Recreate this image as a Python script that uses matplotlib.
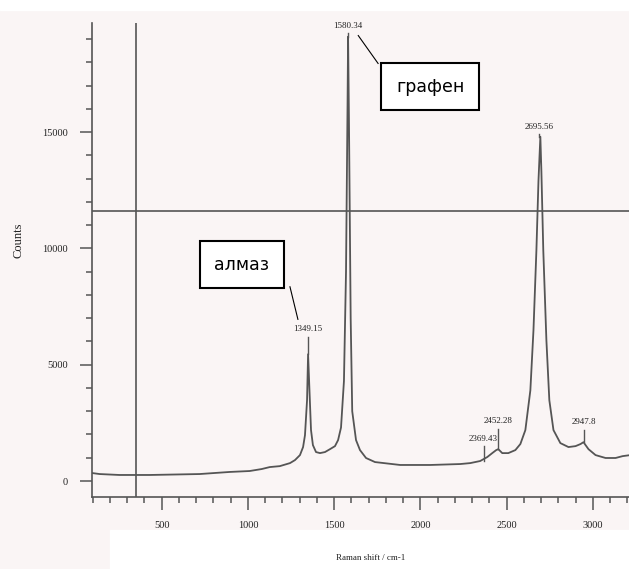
######## Spectre Raman - graphene / diamant ########
import matplotlib.pyplot as plt
from matplotlib.patches import Rectangle
from matplotlib.ticker import MultipleLocator

### Donnees ###
shift = [100, 140, 255, 430, 720, 895, 1010, 1080, 1127, 1185, 1244, 1273, 1302,
         1320, 1331, 1343, 1349, 1357, 1366, 1377, 1395, 1418, 1447, 1476, 1505,
         1523, 1540, 1557, 1569, 1578, 1581, 1586, 1596, 1605, 1627, 1650, 1685,
         1737, 1883, 2057, 2231, 2289, 2347, 2388, 2417, 2440, 2452, 2475, 2510,
         2551, 2580, 2609, 2638, 2656, 2673, 2685, 2696, 2702, 2713, 2731, 2748,
         2772, 2812, 2859, 2900, 2929, 2946, 2975, 3016, 3074, 3132, 3173, 3213]
counts = [340, 300, 260, 260, 300, 390, 430, 515, 600, 640, 770, 900, 1115,
          1460, 1970, 3475, 5450, 3900, 2190, 1545, 1245, 1200, 1245, 1370, 1500,
          1760, 2300, 4300, 9000, 16300, 19100, 15500, 7000, 3000, 1760, 1330, 990,
          815, 690, 690, 730, 770, 860, 1030, 1200, 1330, 1370, 1200, 1200,
          1330, 1590, 2190, 3900, 6480, 9910, 12900, 14800, 13300, 9910, 6050, 3475,
          2190, 1630, 1460, 1500, 1590, 1670, 1370, 1115, 990, 990, 1070, 1110]

# etiquettes des pics: (position, hauteur du pic, hauteur du texte)
pics = ['1349.15', '1580.34', '2695.56', '2452.28', '2369.43', '2947.8']
pics_x = [1349, 1581, 2690, 2452, 2367, 2947]
pics_y = [5450, 19100, 14800, 1370, 860, 1670]
texte_y = [6350, 19400, 15050, 2400, 1650, 2350]

# cadres
cadres = ['алмаз', 'графен']
cadres_pos = [(965, 9300), (2057, 16950)]

gris = '#555555'
texte = '#222222'

### Figure ###
fig = plt.figure(figsize=(6.29, 5.69), dpi=100, facecolor='#faf5f5')
fig.add_artist(Rectangle((0.175, 0), 0.83, 0.068, transform=fig.transFigure,
                         color='white', zorder=0))
fig.add_artist(Rectangle((0, 0.982), 1, 0.02, transform=fig.transFigure,
                         color='white', zorder=0))
ax = fig.add_axes([0.146, 0.126, 0.854, 0.834])
ax.patch.set_alpha(0)

ax.plot(shift, counts, color=gris, lw=1.3)
ax.axvline(350, color=gris, lw=1.2)
ax.axhline(11600, color=gris, lw=1.2)

ax.set_xlim(95, 3210)
ax.set_ylim(-700, 19700)

for s in ['top', 'right']:
    ax.spines[s].set_visible(False)
for s in ['left', 'bottom']:
    ax.spines[s].set_color(gris)
    ax.spines[s].set_linewidth(1.2)

ax.xaxis.set_minor_locator(MultipleLocator(100))
ax.yaxis.set_minor_locator(MultipleLocator(1000))
ax.tick_params(which='major', length=9, width=1.1, color=gris, labelsize=7.5,
               labelcolor=texte, pad=8)
ax.tick_params(which='minor', length=4.5, width=1.1, color=gris)
ax.set_xticks([500, 1000, 1500, 2000, 2500, 3000])
ax.set_yticks([0, 5000, 10000, 15000])
ax.set_xticklabels(['500', '1000', '1500', '2000', '2500', '3000'], family='Liberation Serif')
ax.set_yticklabels(['0', '5000', '10000', '15000'], family='Liberation Serif')

fig.text(0.03, 0.578, 'Counts', rotation=90, ha='center', va='center',
         family='Liberation Serif', fontsize=9, color=texte)
fig.text(0.59, 0.02, 'Raman shift / cm-1', ha='center', va='center',
         family='Liberation Serif', fontsize=6.5, color=texte)

# etiquettes des pics
for i in range(len(pics)):
    ax.plot([pics_x[i], pics_x[i]], [pics_y[i], texte_y[i] - 150], color=gris, lw=1)
    ax.text(pics_x[i], texte_y[i], pics[i], ha='center', va='bottom',
            family='Liberation Serif', fontsize=6.5, color=texte, clip_on=False)

# cadres russes
for i in range(len(cadres)):
    ax.text(cadres_pos[i][0], cadres_pos[i][1], cadres[i], ha='center', va='center',
            fontsize=12.5, family='DejaVu Sans', color='black',
            bbox=dict(boxstyle='square,pad=0.85', fc='white', ec='black', lw=1.5))
ax.plot([1244, 1290], [8350, 6950], color='black', lw=0.8)
ax.plot([1640, 1755], [19150, 17950], color='black', lw=0.8)

fig.savefig('out.png', dpi=100, facecolor=fig.get_facecolor())
